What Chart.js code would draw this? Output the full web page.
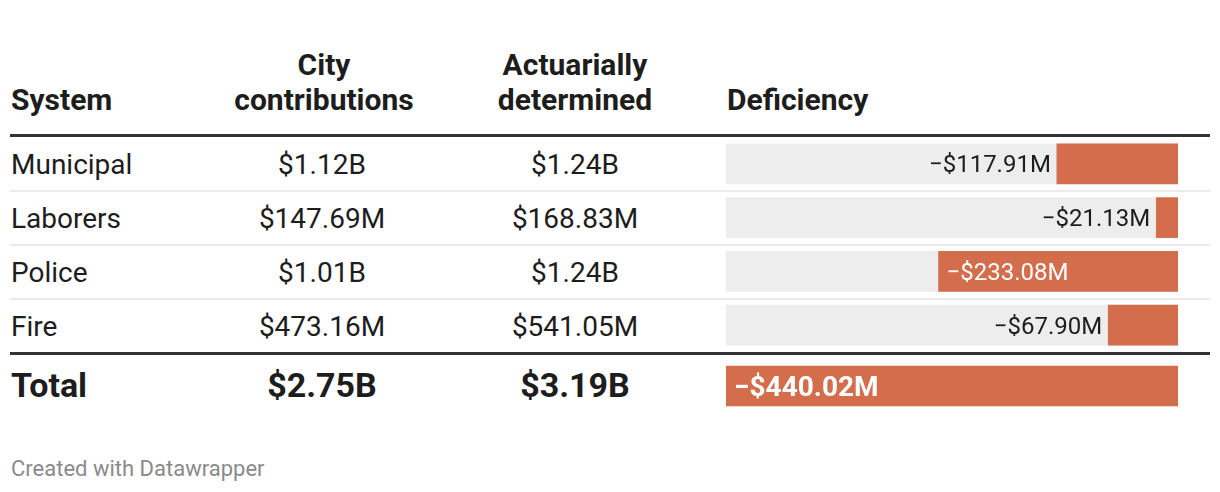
<!DOCTYPE html>
<html>
<head>
<meta charset="utf-8">
<script src="https://cdn.jsdelivr.net/npm/chart.js@4"></script>
<style>
body { margin: 0; background: #fff; font-family: Roboto, sans-serif; color: #1d1d1d; }
#wrap { position: relative; width: 1220px; height: 492px; overflow: hidden; }
.t { position: absolute; white-space: nowrap; }
.hd { font-weight: 700; font-size: 30px; line-height: 35px; }
.row { font-size: 28px; line-height: 54px; }
.tot { font-weight: 700; font-size: 34px; line-height: 60px; }
.c { transform: translateX(-50%); text-align: center; }
.rule { position: absolute; left: 10px; width: 1200px; }
canvas { position: absolute; }
</style>
</head>
<body>
<div id="wrap"></div>
<script>
// table data (money in millions of dollars)
const systems = ['Municipal', 'Laborers', 'Police', 'Fire'];
const cityContrib = [1120, 147.69, 1010, 473.16];
const actuarial = [1240, 168.83, 1240, 541.05];
const deficiency = [-117.91, -21.13, -233.08, -67.90];
const totalLabel = 'Total';
const cityTotal = 2750;
const actuarialTotal = 3190;
const deficiencyTotal = -440.02;

const orange = '#d36d4b';
const track = '#ededed';

const wrap = document.getElementById('wrap');

function money(v) {
    return v >= 1000 ? '$' + (v / 1000).toFixed(2) + 'B' : '$' + v.toFixed(2) + 'M';
}
function deficit(v) {
    return '\u2212$' + Math.abs(v).toFixed(2) + 'M';
}

function addText(html, cls, left, top) {
    const d = document.createElement('div');
    d.className = 't ' + cls;
    d.innerHTML = html;
    d.style.left = left + 'px';
    d.style.top = top + 'px';
    wrap.appendChild(d);
    return d;
}
function addRule(top, h, color) {
    const d = document.createElement('div');
    d.className = 'rule';
    d.style.top = top + 'px';
    d.style.height = h + 'px';
    d.style.background = color;
    wrap.appendChild(d);
}

// header
addText('System', 'hd', 11, 82);
addText('City<br>contributions', 'hd c', 324, 47);
addText('Actuarially<br>determined', 'hd c', 575, 47);
addText('Deficiency', 'hd', 727, 82);
addRule(134, 3, '#333');

// rows
systems.forEach((s, i) => {
    const top = 138 + i * 54;
    addText(s, 'row', 11, top);
    addText(money(cityContrib[i]), 'row c', 322, top);
    addText(money(actuarial[i]), 'row c', 575, top);
    if (i < systems.length - 1) addRule(190 + i * 54, 2, '#ebebeb');
});
addRule(352, 3, '#333');

// total row
addText(totalLabel, 'tot', 11, 355);
addText(money(cityTotal), 'tot c', 322, 355);
addText(money(actuarialTotal), 'tot c', 575, 355);

const foot = addText('Created with Datawrapper', '', 11, 454);
foot.style.fontSize = '22px';
foot.style.lineHeight = '30px';
foot.style.color = '#8a8a8a';

// bar labels: inside the bar when it fits, else left of it
const barLabels = {
    id: 'barLabels',
    afterDatasetsDraw(chart, args, opts) {
        const ctx = chart.ctx;
        const meta = chart.getDatasetMeta(1);
        ctx.save();
        ctx.font = opts.font;
        ctx.textBaseline = 'alphabetic';
        meta.data.forEach((bar, i) => {
            const v = chart.data.datasets[1].data[i];
            const txt = deficit(v);
            const w = ctx.measureText(txt).width;
            const barW = bar.base - bar.x;
            const y = bar.y + opts.cap / 2;
            if (w + 16 < barW) {
                ctx.fillStyle = '#fff';
                ctx.textAlign = 'left';
                ctx.fillText(txt, bar.x + 8, y);
            } else {
                ctx.fillStyle = '#1d1d1d';
                ctx.textAlign = 'right';
                ctx.fillText(txt, bar.x - 6, y);
            }
        });
        ctx.restore();
    }
};

function makeBars(labels, values, top, height, font, cap) {
    const cv = document.createElement('canvas');
    cv.width = 452;
    cv.height = height;
    cv.style.left = '726px';
    cv.style.top = top + 'px';
    cv.style.width = '452px';
    cv.style.height = height + 'px';
    wrap.appendChild(cv);
    return new Chart(cv, {
        type: 'bar',
        data: {
            labels: labels,
            datasets: [
                { data: labels.map(() => deficiencyTotal), backgroundColor: track, grouped: false, order: 2, barThickness: 40 },
                { data: values, backgroundColor: orange, grouped: false, order: 1, barThickness: 40 }
            ]
        },
        options: {
            indexAxis: 'y',
            responsive: false,
            animation: false,
            layout: { padding: 0 },
            scales: {
                x: { type: 'linear', min: deficiencyTotal, max: 0, display: false },
                y: { display: false }
            },
            plugins: {
                legend: { display: false },
                tooltip: { enabled: false },
                barLabels: { font: font, cap: cap }
            }
        },
        plugins: [barLabels]
    });
}

function draw() {
    makeBars(systems, deficiency, 137, 215, '24px Roboto', 17);
    makeBars([totalLabel], [deficiencyTotal], 356, 60, 'bold 28px Roboto', 20);
}
document.fonts.load('24px Roboto').then(() => document.fonts.load('bold 28px Roboto')).then(draw, draw);
</script>
</body>
</html>
